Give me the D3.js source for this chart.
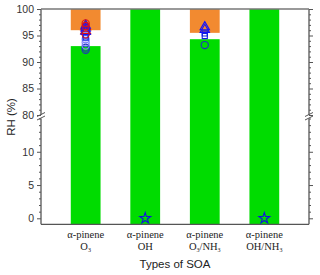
<!DOCTYPE html>
<html><head><meta charset="utf-8">
<script src="https://cdn.jsdelivr.net/npm/d3@7"></script>
<style>body{margin:0;background:#fff}svg{display:block}</style>
</head><body>
<script>
const categories = [["α-pinene","O","3",""], ["α-pinene","OH","",""], ["α-pinene","O","3","/NH3"], ["α-pinene","OH/NH","3",""]];
const greenTop = [93, 100, 94.3, 100];
const orangeBottom = [96, null, 95.5, null];
const upperTicks = [80, 85, 90, 95, 100];
const lowerTicks = [0, 5, 10];
const redCircles = [[0, 97.3], [0, 96.8], [0, 95.2]];
const redTriangles = [[0, 96.6], [0, 95.9]];
const blueTriangles = [[0, 96.9], [0, 96.3], [0, 95.7], [2, 96.6], [2, 96.1]];
const blueSquares = [[0, 95.0], [0, 94.6], [2, 95.4], [2, 94.9]];
const lightCircles = [[0, 94.3], [0, 93.7], [0, 93.1]];
const blueCircles = [[0, 92.7], [0, 92.3], [2, 93.2]];
const blueStars = [[1, 0], [3, 0]];

const W = 320, H = 275;
const L = 41, R = 309, T = 9, B = 224.3;
const svg = d3.select("body").append("svg").attr("width", W).attr("height", H);

const x = d3.scaleBand().domain(d3.range(categories.length)).range([L, R]).padding(0.5);
const yUp = d3.scaleLinear().domain([80, 100]).range([115, T]);
const yLow = d3.scaleLinear().domain([-0.9, 15]).range([B, 118.5]);
const y = v => v >= 80 ? yUp(v) : yLow(v);

// bars
svg.selectAll("rect.g").data(greenTop).join("rect")
  .attr("x", (d, i) => x(i)).attr("width", x.bandwidth())
  .attr("y", d => y(d)).attr("height", d => B - y(d))
  .attr("fill", "#00dc00");
svg.selectAll("rect.o").data(orangeBottom.map((d, i) => [i, d]).filter(d => d[1] != null)).join("rect")
  .attr("x", d => x(d[0])).attr("width", x.bandwidth())
  .attr("y", y(100)).attr("height", d => y(d[1]) - y(100))
  .attr("fill", "#f28a30");

// axes
const axColor = "#555";
function drawAxis(gen, scale, major, minorVals, xpos, labels) {
  const g = svg.append("g").attr("transform", `translate(${xpos},0)`);
  g.call(gen(scale).tickValues(major).tickSize(4).tickFormat(labels ? d3.format("d") : ""));
  g.select(".domain").remove();
  g.selectAll("line").attr("stroke", axColor);
  g.selectAll("text").attr("font-family", "Liberation Sans, Arial, sans-serif").attr("font-size", 10.5).attr("fill", "#333");
  const g2 = svg.append("g").attr("transform", `translate(${xpos},0)`);
  g2.call(gen(scale).tickValues(minorVals).tickSize(2).tickFormat(""));
  g2.select(".domain").remove();
  g2.selectAll("line").attr("stroke", axColor);
}
const upMinor = d3.range(80, 101).filter(v => v % 5 !== 0);
const lowMinor = d3.range(0, 16).filter(v => v % 5 !== 0 || v === 15);
drawAxis(d3.axisLeft, yUp, upperTicks, upMinor, L, true);
drawAxis(d3.axisLeft, yLow, lowerTicks, lowMinor, L, true);
drawAxis(d3.axisRight, yUp, upperTicks, upMinor, R, false);
drawAxis(d3.axisRight, yLow, lowerTicks, lowMinor, R, false);

// axis lines
const lineAttr = s => s.attr("stroke", axColor).attr("stroke-width", 1.3).attr("fill", "none");
[L, R].forEach(xp => {
  svg.append("line").attr("x1", xp).attr("x2", xp).attr("y1", T).attr("y2", 115).call(lineAttr);
  svg.append("line").attr("x1", xp).attr("x2", xp).attr("y1", 118.5).attr("y2", B).call(lineAttr);
  svg.append("line").attr("x1", xp - 4).attr("x2", xp + 4).attr("y1", 116.5).attr("y2", 112.5).call(lineAttr).attr("stroke-width", 1);
  svg.append("line").attr("x1", xp - 4).attr("x2", xp + 4).attr("y1", 120).attr("y2", 116).call(lineAttr).attr("stroke-width", 1);
});
svg.append("line").attr("x1", L).attr("x2", R).attr("y1", T).attr("y2", T).attr("stroke", "#777").attr("stroke-width", 1.6);
svg.append("line").attr("x1", L).attr("x2", R).attr("y1", B).attr("y2", B).attr("stroke", axColor).attr("stroke-width", 1.3);

// markers
const cx = i => x(i) + x.bandwidth() / 2;
function circles(data, color) {
  svg.append("g").selectAll("circle").data(data).join("circle")
    .attr("cx", d => cx(d[0])).attr("cy", d => y(d[1])).attr("r", 3.6)
    .attr("fill", "none").attr("stroke", color).attr("stroke-width", 1.1);
}
function symbols(data, type, size, color) {
  svg.append("g").selectAll("path").data(data).join("path")
    .attr("transform", d => `translate(${cx(d[0])},${y(d[1])})`)
    .attr("d", d3.symbol().type(type).size(size))
    .attr("fill", "none").attr("stroke", color).attr("stroke-width", 1.1);
}
circles(blueCircles, "#2030c0");
circles(lightCircles, "#8080ff");
symbols(blueSquares, d3.symbolSquare, 26, "#1020e0");
symbols(redTriangles, d3.symbolTriangle, 44, "#e01010");
symbols(blueTriangles, d3.symbolTriangle, 38, "#1010ff");
circles(redCircles, "#e01010");
symbols(blueStars, d3.symbolStar, 36, "#1010e0");

// x labels
const xl = svg.append("g").attr("font-family", "Liberation Serif, Times New Roman, serif").attr("font-size", 10.5).attr("fill", "#222").attr("text-anchor", "middle");
categories.forEach((c, i) => {
  xl.append("text").attr("x", cx(i)).attr("y", 238).text(c[0]);
  const t = xl.append("text").attr("x", cx(i)).attr("y", 250);
  if (c[3] === "/NH3") {
    t.append("tspan").text("O");
    t.append("tspan").attr("font-size", 6).attr("dy", 2).text("3");
    t.append("tspan").attr("dy", -2).text("/NH");
    t.append("tspan").attr("font-size", 6).attr("dy", 2).text("3");
  } else {
    t.append("tspan").text(c[1]);
    if (c[2]) t.append("tspan").attr("font-size", 6).attr("dy", 2).text(c[2]);
  }
});
svg.append("text").attr("x", 175).attr("y", 268).attr("text-anchor", "middle")
  .attr("font-family", "Liberation Sans, Arial, sans-serif").attr("font-size", 11.5).attr("fill", "#222").text("Types of SOA");
svg.append("text").attr("transform", "translate(15,117) rotate(-90)").attr("text-anchor", "middle")
  .attr("font-family", "Liberation Sans, Arial, sans-serif").attr("font-size", 11.5).attr("fill", "#222").text("RH (%)");
</script>
</body></html>
